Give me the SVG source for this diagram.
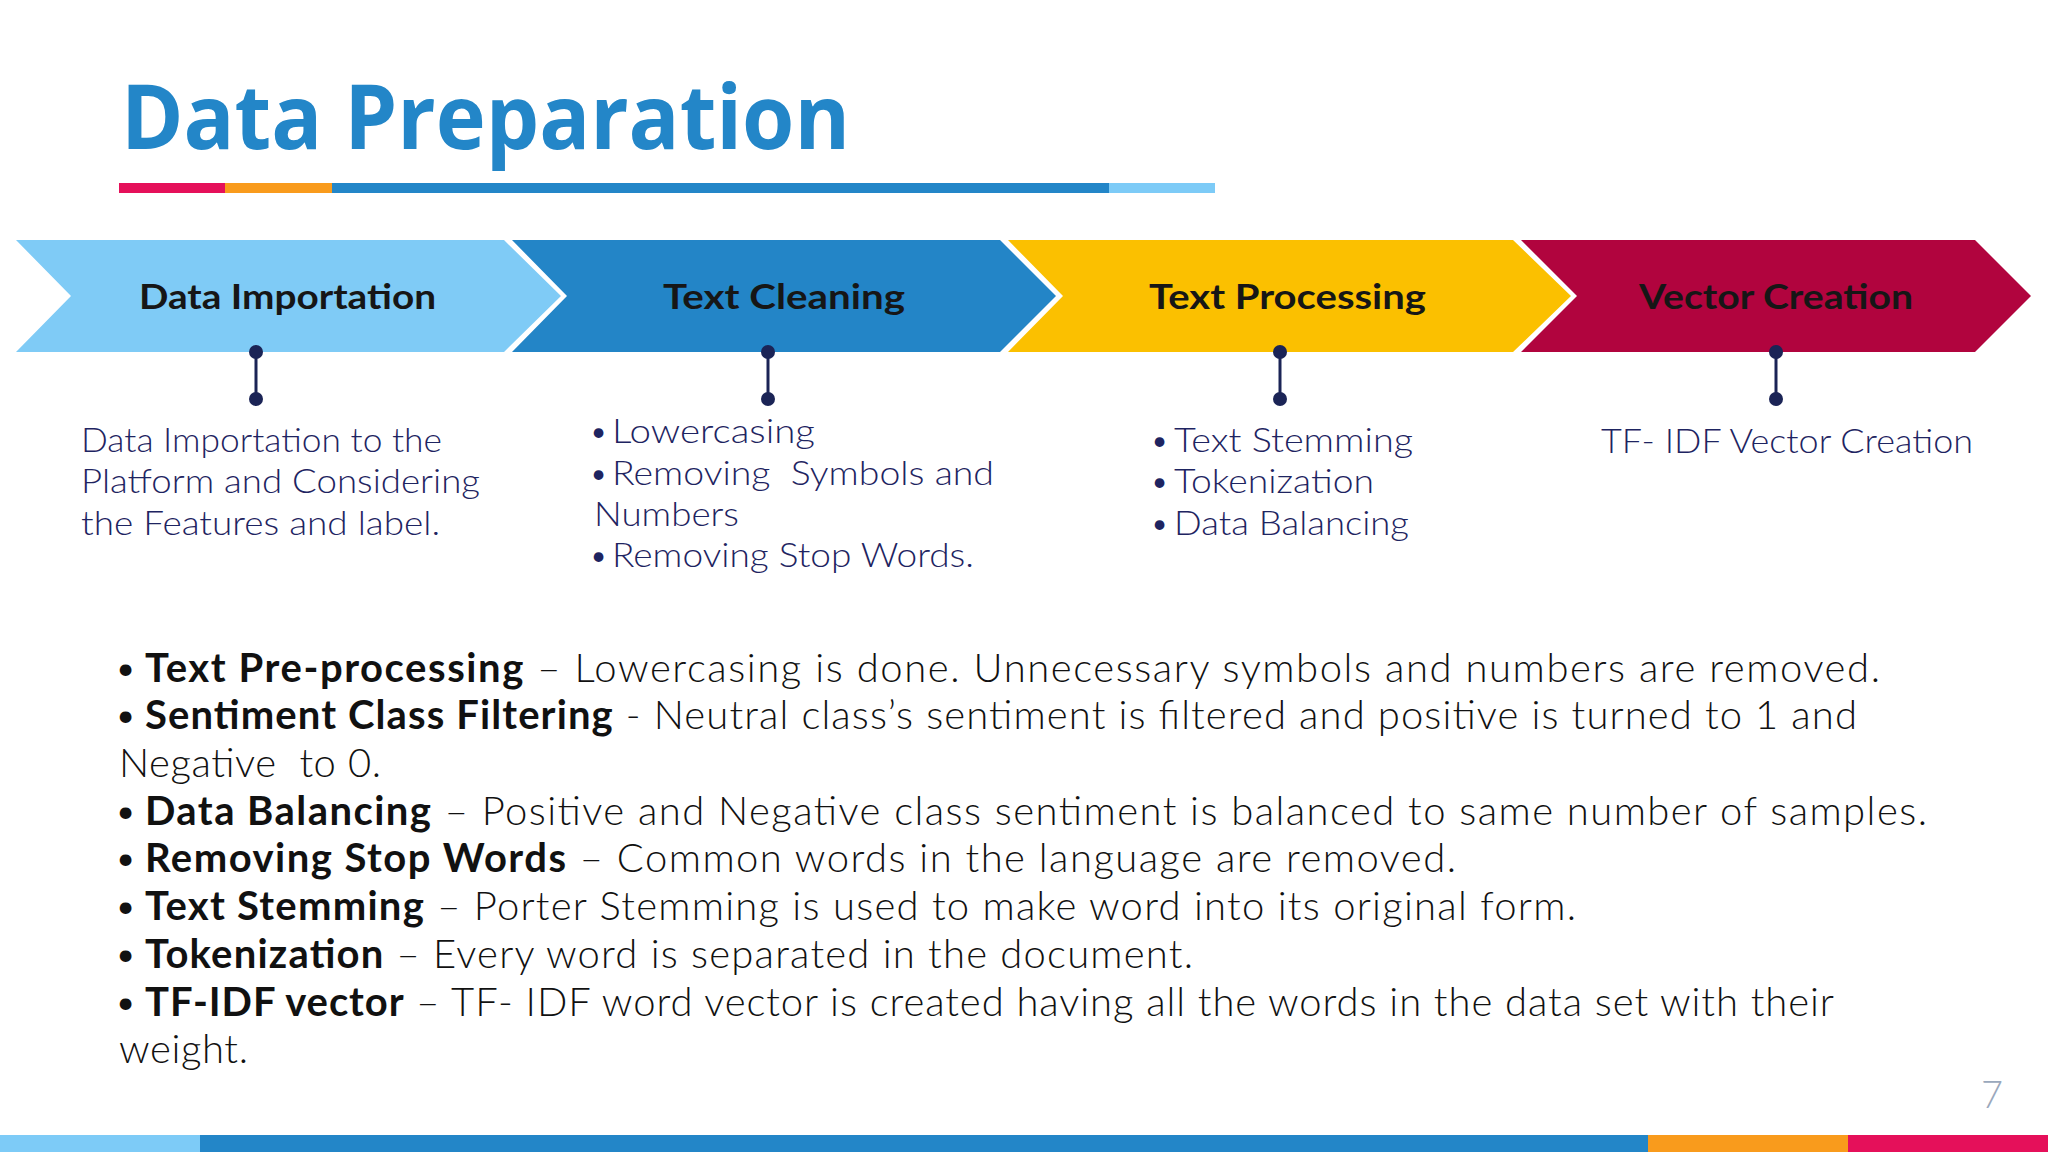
<svg xmlns="http://www.w3.org/2000/svg" width="2048" height="1152" viewBox="0 0 2048 1152">
<style>
.title{font-family:"Open Sans","Liberation Sans",sans-serif;font-weight:700;font-size:90px;fill:#2386C8}
.lbl{font-family:Lato,"Liberation Sans",sans-serif;font-weight:700;font-size:35px;fill:#161616}
.desc{font-family:Lato,"Liberation Sans",sans-serif;font-weight:300;font-size:33px;fill:#1E2461}
.body{font-family:Lato,"Liberation Sans",sans-serif;font-weight:300;font-size:40px;fill:#111111}
.body .b{font-weight:700}
.pn{font-family:Lato,"Liberation Sans",sans-serif;font-weight:300;font-size:38px;fill:#9AA8BC}
.conn line{stroke:#1B2456;stroke-width:3}
.conn circle{fill:#1B2456}
</style>
<rect width="2048" height="1152" fill="#FFFFFF"/>
<g id="header">
<text class="title" x="121" y="149" textLength="729" lengthAdjust="spacingAndGlyphs">Data Preparation</text>
<rect x="119" y="183" width="106" height="10" fill="#E5105A"/>
<rect x="225" y="183" width="107" height="10" fill="#F99B1C"/>
<rect x="332" y="183" width="777" height="10" fill="#2386C8"/>
<rect x="1109" y="183" width="106" height="10" fill="#7DCBF7"/>
</g>
<g id="node-data-importation">
<polygon points="16,240 504,240 561,296 504,352 16,352 71,296" fill="#7FCBF6"/>
<text class="lbl" x="139" y="309" textLength="297" lengthAdjust="spacingAndGlyphs">Data Importation</text>
<text class="desc" x="81" y="452" textLength="361" lengthAdjust="spacingAndGlyphs">Data Importation to the</text>
<text class="desc" x="81" y="493" textLength="399" lengthAdjust="spacingAndGlyphs">Platform and Considering</text>
<text class="desc" x="81" y="535" textLength="359" lengthAdjust="spacingAndGlyphs">the Features and label.</text>
</g>
<g id="node-text-cleaning">
<polygon points="512,240 1000,240 1056,296 1000,352 512,352 567,296" fill="#2385C7"/>
<text class="lbl" x="663" y="309" textLength="242" lengthAdjust="spacingAndGlyphs">Text Cleaning</text>
<text class="desc" x="589" y="443">•</text>
<text class="desc" x="612" y="443" textLength="203" lengthAdjust="spacingAndGlyphs">Lowercasing</text>
<text class="desc" x="589" y="485">•</text>
<text class="desc" x="612" y="485" textLength="382" lengthAdjust="spacingAndGlyphs" xml:space="preserve">Removing  Symbols and</text>
<text class="desc" x="594" y="526" textLength="145" lengthAdjust="spacingAndGlyphs">Numbers</text>
<text class="desc" x="589" y="567">•</text>
<text class="desc" x="612" y="567" textLength="362" lengthAdjust="spacingAndGlyphs">Removing Stop Words.</text>
</g>
<g id="node-text-processing">
<polygon points="1008,240 1513,240 1571,296 1513,352 1008,352 1063,296" fill="#FBC000"/>
<text class="lbl" x="1149" y="309" textLength="277" lengthAdjust="spacingAndGlyphs">Text Processing</text>
<text class="desc" x="1150" y="452">•</text>
<text class="desc" x="1174" y="452" textLength="239" lengthAdjust="spacingAndGlyphs">Text Stemming</text>
<text class="desc" x="1150" y="493">•</text>
<text class="desc" x="1174" y="493" textLength="200" lengthAdjust="spacingAndGlyphs">Tokenization</text>
<text class="desc" x="1150" y="535">•</text>
<text class="desc" x="1174" y="535" textLength="235" lengthAdjust="spacingAndGlyphs">Data Balancing</text>
</g>
<g id="node-vector-creation">
<polygon points="1521,240 1975,240 2031,296 1975,352 1521,352 1577,296" fill="#B1043E"/>
<text class="lbl" x="1639" y="309" textLength="274" lengthAdjust="spacingAndGlyphs">Vector Creation</text>
<text class="desc" x="1601" y="453" textLength="372" lengthAdjust="spacingAndGlyphs">TF- IDF Vector Creation</text>
</g>
<g id="connectors" class="conn">
<line x1="256" y1="352" x2="256" y2="399"/><circle cx="256" cy="352" r="7"/><circle cx="256" cy="399" r="7"/>
<line x1="768" y1="352" x2="768" y2="399"/><circle cx="768" cy="352" r="7"/><circle cx="768" cy="399" r="7"/>
<line x1="1280" y1="352" x2="1280" y2="399"/><circle cx="1280" cy="352" r="7"/><circle cx="1280" cy="399" r="7"/>
<line x1="1776" y1="352" x2="1776" y2="399"/><circle cx="1776" cy="352" r="7"/><circle cx="1776" cy="399" r="7"/>
</g>
<g id="notes" class="body">
<text x="114" y="682">•</text>
<text x="145" y="682" textLength="1735" lengthAdjust="spacing"><tspan class="b">Text Pre-processing</tspan> – Lowercasing is done. Unnecessary symbols and numbers are removed.</text>
<text x="114" y="729">•</text>
<text x="145" y="729" textLength="1712" lengthAdjust="spacing"><tspan class="b">Sentiment Class Filtering</tspan> - Neutral class’s sentiment is filtered and positive is turned to 1 and</text>
<text x="119" y="777" textLength="262" lengthAdjust="spacing" xml:space="preserve">Negative  to 0.</text>
<text x="114" y="825">•</text>
<text x="145" y="825" textLength="1782" lengthAdjust="spacing"><tspan class="b">Data Balancing</tspan> – Positive and Negative class sentiment is balanced to same number of samples.</text>
<text x="114" y="872">•</text>
<text x="145" y="872" textLength="1311" lengthAdjust="spacing"><tspan class="b">Removing Stop Words</tspan> – Common words in the language are removed.</text>
<text x="114" y="920">•</text>
<text x="145" y="920" textLength="1431" lengthAdjust="spacing"><tspan class="b">Text Stemming</tspan> – Porter Stemming is used to make word into its original form.</text>
<text x="114" y="968">•</text>
<text x="145" y="968" textLength="1048" lengthAdjust="spacing"><tspan class="b">Tokenization</tspan> – Every word is separated in the document.</text>
<text x="114" y="1016">•</text>
<text x="145" y="1016" textLength="1689" lengthAdjust="spacing"><tspan class="b">TF-IDF vector</tspan> – TF- IDF word vector is created having all the words in the data set with their</text>
<text x="119" y="1063" textLength="129" lengthAdjust="spacing">weight.</text>
</g>
<g id="footer">
<text class="pn" x="1981" y="1108">7</text>
<rect x="0" y="1135" width="200" height="17" fill="#7DCBF7"/>
<rect x="200" y="1135" width="1448" height="17" fill="#2386C8"/>
<rect x="1648" y="1135" width="200" height="17" fill="#F99B1C"/>
<rect x="1848" y="1135" width="200" height="17" fill="#E5105A"/>
</g>
</svg>
